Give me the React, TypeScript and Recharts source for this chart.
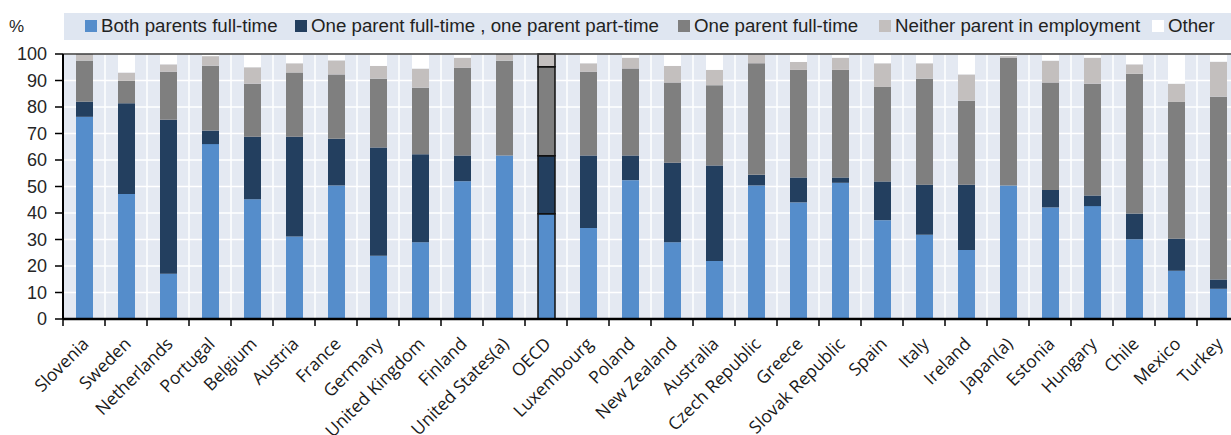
import { Bar, BarChart, CartesianGrid, Cell, Legend, ReferenceLine, XAxis, YAxis } from "recharts";

const countries = [
  "Slovenia", "Sweden", "Netherlands", "Portugal", "Belgium", "Austria", "France",
  "Germany", "United Kingdom", "Finland", "United States(a)", "OECD", "Luxembourg",
  "Poland", "New Zealand", "Australia", "Czech Republic", "Greece", "Slovak Republic",
  "Spain", "Italy", "Ireland", "Japan(a)", "Estonia", "Hungary", "Chile", "Mexico", "Turkey",
];

const bothFullTime = [
  76.3, 47.2, 17.1, 66.0, 45.2, 31.1, 50.4, 23.9, 29.0, 52.0, 61.7, 39.7, 34.3, 52.4,
  29.0, 21.9, 50.4, 44.0, 51.4, 37.3, 31.8, 26.0, 50.4, 42.1, 42.6, 30.1, 18.2, 11.4,
];
const oneFullOnePart = [
  5.7, 34.2, 58.1, 5.1, 23.6, 37.7, 17.6, 40.8, 33.2, 9.7, 0, 21.9, 27.4, 9.3,
  30.0, 36.0, 4.0, 9.4, 2.0, 14.6, 18.9, 24.7, 0, 6.6, 4.0, 9.7, 12.1, 3.5,
];
const oneFullTime = [
  15.5, 8.5, 18.1, 24.5, 20.0, 24.2, 24.3, 26.0, 25.1, 33.1, 35.8, 33.6, 31.6, 32.8,
  30.2, 30.3, 42.1, 40.6, 40.6, 35.7, 40.0, 31.7, 48.2, 40.5, 42.2, 52.7, 51.6, 69.0,
];
const neitherEmployed = [
  2.5, 3.1, 2.8, 3.6, 6.2, 3.5, 5.3, 4.8, 7.2, 3.8, 2.5, 4.8, 3.2, 4.1,
  6.3, 5.8, 3.4, 3.0, 4.6, 8.9, 5.8, 9.9, 0.6, 8.3, 9.8, 3.6, 6.9, 13.2,
];
const other = [
  0, 7.0, 3.9, 0.8, 5.0, 3.5, 2.4, 4.5, 5.5, 1.4, 0, 0, 3.5, 1.4,
  4.5, 6.0, 0.1, 3.0, 1.4, 3.5, 3.5, 7.7, 0.8, 2.5, 1.4, 3.9, 11.2, 2.9,
];

const yTicks = [0, 10, 20, 30, 40, 50, 60, 70, 80, 90, 100];

const series = [
  { key: "both", label: "Both parents full-time", color: "#558dcb" },
  { key: "onePart", label: "One parent full-time , one parent part-time", color: "#233f5f" },
  { key: "oneFull", label: "One parent full-time", color: "#7f7f7f" },
  { key: "neither", label: "Neither parent in employment", color: "#c3bfbe" },
  { key: "other", label: "Other", color: "#ffffff" },
];

const legendX = [85, 295, 678, 879, 1152];

const data = countries.map((country, i) => ({
  country,
  both: bothFullTime[i],
  onePart: oneFullOnePart[i],
  oneFull: oneFullTime[i],
  neither: neitherEmployed[i],
  other: other[i],
}));

const WIDTH = 1250;
const HEIGHT = 435;
const Y_AXIS_W = 63;
const MARGIN = { top: 54, right: 11, bottom: 0, left: 0 };
const BAND = (WIDTH - Y_AXIS_W - MARGIN.right) / countries.length;

const AXIS_FONT = "'Liberation Sans', Arial, sans-serif";
const LABEL_FONT = "'Open Sans', 'Noto Sans', sans-serif";

function CountryTick(props: any) {
  const { x, y, payload } = props;
  return (
    <g transform={`translate(${x},${y})`}>
      <line x1={-BAND / 2} x2={-BAND / 2} y1={0} y2={7} stroke="#000" strokeWidth={1.5} />
      <text
        x={6}
        y={26}
        transform="rotate(-45 6 26)"
        textAnchor="end"
        fontFamily={LABEL_FONT}
        fontSize={17.5}
        fill="#1a1a1a"
      >
        {payload.value}
      </text>
    </g>
  );
}

function ChartLegend() {
  return (
    <svg width={WIDTH} height={45} style={{ display: "block" }}>
      <rect x={64} y={13} width={WIDTH - 64} height={27} fill="#dfe6f1" />
      {series.map((s, i) => (
        <g key={s.key}>
          <rect x={legendX[i]} y={20} width={12} height={12} fill={s.color} />
          <text
            x={legendX[i] + 16}
            y={32}
            fontFamily={AXIS_FONT}
            fontSize={18.7}
            fill="#222"
          >
            {s.label}
          </text>
        </g>
      ))}
    </svg>
  );
}

export default function App() {
  const oecdIndex = countries.indexOf("OECD");
  return (
    <div
      style={{
        position: "fixed",
        left: 0,
        top: 0,
        width: 1231,
        height: 435,
        overflow: "hidden",
        background: "#fff",
      }}
    >
      <BarChart width={WIDTH} height={HEIGHT} data={data} margin={MARGIN}>
        <CartesianGrid
          fill="#e4e9f2"
          stroke="#ffffff"
          strokeWidth={1.5}
          verticalCoordinatesGenerator={({ offset }: any) =>
            countries.map((_, i) => offset.left + (i * offset.width) / countries.length)
          }
        />
        <XAxis
          dataKey="country"
          interval={0}
          tickLine={false}
          tickSize={0}
          tickMargin={0}
          height={116}
          axisLine={{ stroke: "#000", strokeWidth: 2.5 }}
          tick={<CountryTick />}
        />
        <YAxis
          domain={[0, 100]}
          ticks={yTicks}
          width={Y_AXIS_W}
          tickSize={8}
          tickMargin={8}
          axisLine={{ stroke: "#000", strokeWidth: 2 }}
          tickLine={{ stroke: "#000", strokeWidth: 1.5 }}
          tick={{ fontFamily: AXIS_FONT, fontSize: 18, fill: "#262626" }}
          label={{
            value: "%",
            position: "top",
            dx: -15,
            dy: -17,
            style: { fontFamily: AXIS_FONT, fontSize: 17, fill: "#262626" },
          }}
        />
        <ReferenceLine y={100} stroke="#3c3c3c" strokeWidth={1.5} />
        <Legend
          verticalAlign="top"
          content={<ChartLegend />}
          wrapperStyle={{ top: 0, left: 0, width: WIDTH, height: 0 }}
        />
        {series.map((s) => (
          <Bar
            key={s.key}
            dataKey={s.key}
            name={s.label}
            stackId="a"
            fill={s.color}
            barSize={17}
            isAnimationActive={false}
          >
            {data.map((d, i) => (
              <Cell
                key={d.country}
                stroke={i === oecdIndex ? "#111" : "none"}
                strokeWidth={i === oecdIndex ? 1.5 : 0}
              />
            ))}
          </Bar>
        ))}
      </BarChart>
    </div>
  );
}
